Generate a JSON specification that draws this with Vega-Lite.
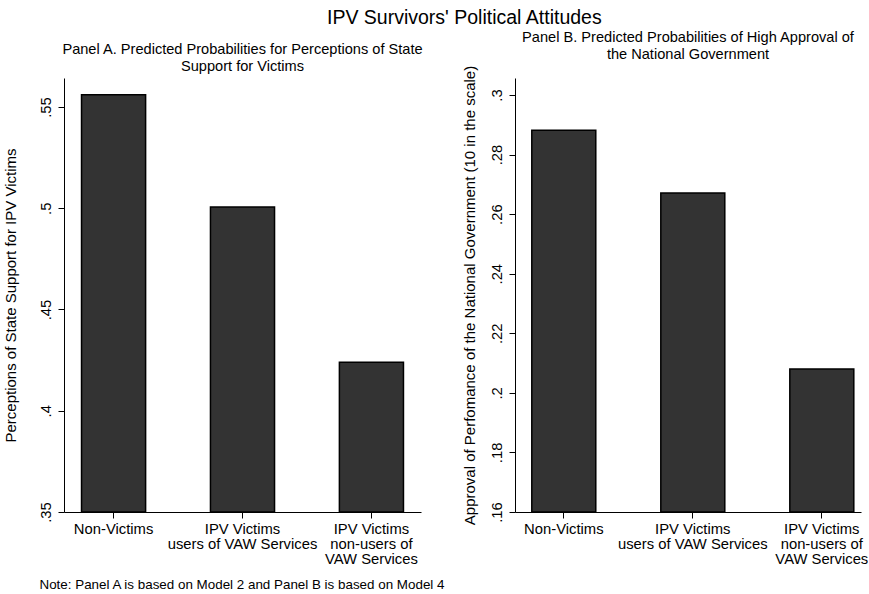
{
  "$schema": "https://vega.github.io/schema/vega-lite/v6.json",
  "padding": {"left": 3, "top": 8, "right": 0, "bottom": 0},
  "background": "white",
  "title": {"text": "IPV Survivors' Political Attitudes", "fontSize": 19.5, "fontWeight": "normal", "font": "Liberation Sans", "color": "black", "anchor": "start", "dx": 324, "offset": 1},
  "spacing": 94,
  "bounds": "flush",
  "config": {
    "view": {"stroke": null},
    "font": "Liberation Sans",
    "axis": {"grid": false, "domain": true, "ticks": true, "domainColor": "black", "domainWidth": 1, "tickColor": "black", "tickWidth": 1, "labelColor": "black", "titleColor": "black", "labelFont": "Liberation Sans", "titleFont": "Liberation Sans", "titleFontWeight": "normal", "tickSize": 6, "labelFontSize": 14.8},
    "title": {"font": "Liberation Sans", "fontWeight": "normal", "color": "black"}
  },
  "hconcat": [
    {
      "width": 357,
      "height": 434,
      "title": {"text": ["Panel A. Predicted Probabilities for Perceptions of State", "Support for Victims"], "fontSize": 14.6, "lineHeight": 17, "offset": 4, "anchor": "middle"},
      "data": {"values": [
        {"group": "Non-Victims", "prob": 0.556},
        {"group": "IPV Victims|users of VAW Services", "prob": 0.5006},
        {"group": "IPV Victims|non-users of|VAW Services", "prob": 0.424}
      ]},
      "mark": {"type": "bar", "color": "#333333", "stroke": "black", "strokeWidth": 1.5},
      "encoding": {
        "x": {"field": "group", "type": "nominal", "sort": null,
              "scale": {"paddingInner": 0.503, "paddingOuter": 0.136},
              "axis": {"labelAngle": 0, "labelExpr": "split(datum.label, '|')", "labelLineHeight": 15, "labelPadding": 3, "labelBaseline": "top",
                       "title": "Note: Panel A is based on Model 2 and Panel B is based on Model 4", "titleFontSize": 13.4, "titleX": -25, "titleY": 76, "titleAlign": "left", "titleBaseline": "alphabetic"}},
        "y": {"field": "prob", "type": "quantitative",
              "scale": {"domain": [0.35, 0.5643], "zero": false, "nice": false},
              "axis": {"values": [0.35, 0.4, 0.45, 0.5, 0.55], "labelExpr": "replace(format(datum.value, '.2~f'), '0.', '.')", "labelAngle": -90, "labelAlign": "center", "labelBaseline": "bottom", "labelPadding": 5,
                       "title": "Perceptions of State Support for IPV Victims", "titleFontSize": 15, "titlePadding": 20}},
        "y2": {"datum": 0.35}
      }
    },
    {
      "width": 346,
      "height": 434,
      "title": {"text": ["Panel B. Predicted Probabilities of High Approval of", "the National Government"], "fontSize": 14.6, "lineHeight": 17, "offset": 4, "anchor": "middle"},
      "data": {"values": [
        {"group": "Non-Victims", "prob": 0.2882},
        {"group": "IPV Victims|users of VAW Services", "prob": 0.2671},
        {"group": "IPV Victims|non-users of|VAW Services", "prob": 0.208}
      ]},
      "mark": {"type": "bar", "color": "#333333", "stroke": "black", "strokeWidth": 1.5},
      "encoding": {
        "x": {"field": "group", "type": "nominal", "sort": null,
              "scale": {"paddingInner": 0.504, "paddingOuter": 0.093, "align": 0.7},
              "axis": {"labelAngle": 0, "labelExpr": "split(datum.label, '|')", "labelLineHeight": 15, "labelPadding": 3, "labelBaseline": "top", "title": null}},
        "y": {"field": "prob", "type": "quantitative",
              "scale": {"domain": [0.16, 0.3057], "zero": false, "nice": false},
              "axis": {"values": [0.16, 0.18, 0.2, 0.22, 0.24, 0.26, 0.28, 0.3], "labelExpr": "replace(format(datum.value, '.2~f'), '0.', '.')", "labelAngle": -90, "labelAlign": "center", "labelBaseline": "bottom", "labelPadding": 5,
                       "title": "Approval of Perfomance of the National Government (10 in the scale)", "titleFontSize": 15, "titlePadding": 12}},
        "y2": {"datum": 0.16}
      }
    }
  ]
}
